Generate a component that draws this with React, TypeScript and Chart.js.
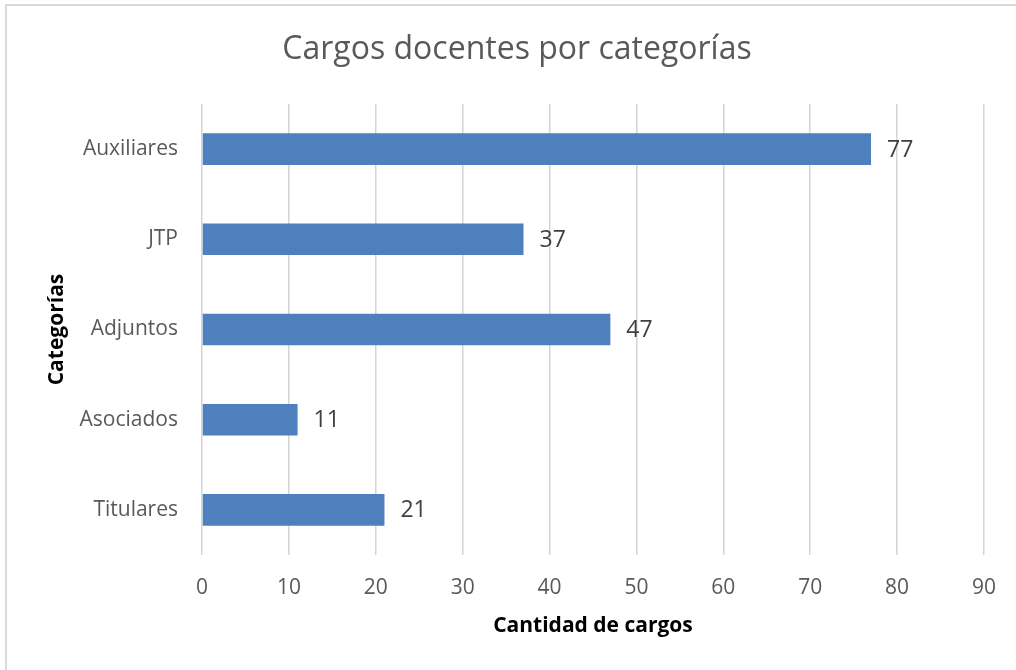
import React, { useEffect, useRef } from "react";
import { Chart, registerables } from "chart.js";

Chart.register(...registerables);

const categories = ["Auxiliares", "JTP", "Adjuntos", "Asociados", "Titulares"];
const values = [77, 37, 47, 11, 21];
const xTicks = [0, 10, 20, 30, 40, 50, 60, 70, 80, 90];
const chartTitle = "Cargos docentes por categorías";
const xTitle = "Cantidad de cargos";
const yTitle = "Categorías";

const FONT = "'Open Sans', 'Noto Sans', sans-serif";

const dataLabelPlugin = {
  id: "dataLabels",
  afterDatasetsDraw(chart: any) {
    const ctx = chart.ctx;
    const meta = chart.getDatasetMeta(0);
    ctx.save();
    ctx.font = `23px ${FONT}`;
    ctx.fillStyle = "#404040";
    ctx.textAlign = "left";
    ctx.textBaseline = "middle";
    meta.data.forEach((bar: any, i: number) => {
      ctx.fillText(String(values[i]), bar.x + 16, bar.y + 1);
    });
    ctx.restore();
  },
};

const titlePlugin = {
  id: "centeredTitle",
  afterDraw(chart: any) {
    const ctx = chart.ctx;
    ctx.save();
    ctx.font = `32px ${FONT}`;
    ctx.fillStyle = "#595959";
    ctx.textAlign = "center";
    ctx.textBaseline = "middle";
    ctx.fillText(chartTitle, 517, 50);
    ctx.restore();
  },
};

export default function App() {
  const ref = useRef<HTMLCanvasElement>(null);

  useEffect(() => {
    if (!ref.current) return;
    const chart = new Chart(ref.current, {
      type: "bar",
      data: {
        labels: categories,
        datasets: [
          {
            data: values,
            backgroundColor: "#4e80bd",
            borderWidth: 0,
            barPercentage: 0.35,
            categoryPercentage: 1,
          },
        ],
      },
      options: {
        indexAxis: "y",
        animation: false,
        responsive: false,
        maintainAspectRatio: false,
        layout: { padding: { left: 0, right: 29, top: 104, bottom: 0 } },
        plugins: {
          legend: { display: false },
          tooltip: { enabled: false },
          title: { display: false },
        },
        scales: {
          x: {
            type: "linear",
            min: 0,
            max: 90,
            afterBuildTicks: (scale: any) => {
              scale.ticks = xTicks.map((v) => ({ value: v }));
            },
            afterFit: (scale: any) => {
              scale.height = 115;
            },
            grid: {
              color: "#d4d4d4",
              lineWidth: 1.5,
              drawTicks: false,
            },
            border: { display: false },
            ticks: {
              color: "#595959",
              font: { family: FONT, size: 21 },
              padding: 20,
              maxRotation: 0,
            },
            title: {
              display: true,
              text: xTitle,
              color: "#000000",
              font: { family: FONT, size: 21, weight: "bold", lineHeight: 1.2 },
              padding: { top: 0, bottom: 31 },
            },
          },
          y: {
            type: "category",
            afterFit: (scale: any) => {
              scale.width = 202;
            },
            grid: { display: false, drawTicks: false },
            border: { display: false },
            ticks: {
              color: "#595959",
              font: { family: FONT, size: 21 },
              padding: 24,
            },
            title: {
              display: true,
              text: yTitle,
              color: "#000000",
              font: { family: FONT, size: 21, weight: "bold", lineHeight: 1.2 },
              padding: { top: 44, bottom: 0 },
            },
          },
        },
      },
      plugins: [dataLabelPlugin, titlePlugin],
    });
    return () => chart.destroy();
  }, []);

  return (
    <div
      style={{
        position: "absolute",
        left: 0,
        top: 0,
        width: 1016,
        height: 670,
        background: "#ffffff",
        overflow: "hidden",
      }}
    >
      <div
        style={{
          position: "absolute",
          left: 5,
          top: 4,
          width: 1020,
          height: 680,
          borderLeft: "2px solid #d9d9d9",
          borderTop: "2px solid #d9d9d9",
        }}
      />
      <canvas
        ref={ref}
        width={1016}
        height={670}
        style={{ position: "absolute", left: 0, top: 0, width: 1016, height: 670 }}
      />
    </div>
  );
}
